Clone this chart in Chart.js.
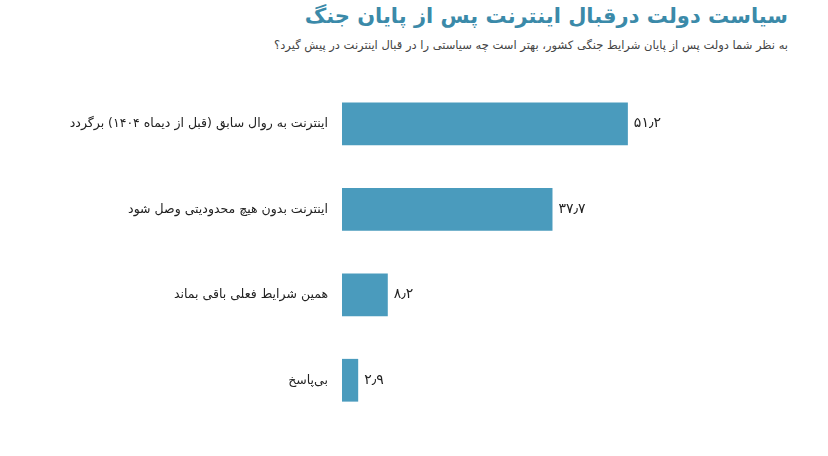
<!DOCTYPE html>
<html><head><meta charset="utf-8">
<script src="https://cdn.jsdelivr.net/npm/chart.js@4"></script>
<style>
body{margin:0;background:#fff;width:828px;height:456px;overflow:hidden;font-family:"DejaVu Sans","Noto Sans",sans-serif}
#t{position:absolute;right:40px;top:4px;font-size:21px;font-weight:bold;color:#3b8aa9;direction:rtl}
#s{position:absolute;right:40px;top:38px;font-size:11.5px;color:#444;direction:rtl}
#w{position:absolute;left:0;top:0;width:828px;height:456px}
</style></head><body>
<div id="t">سیاست دولت درقبال اینترنت پس از پایان جنگ</div>
<div id="s">به نظر شما دولت پس از پایان شرایط جنگی کشور، بهتر است چه سیاستی را در قبال اینترنت در پیش گیرد؟</div>
<div id="w"><canvas id="c"></canvas></div>
<script>
const categories=["اینترنت به روال سابق (قبل از دیماه ۱۴۰۴) برگردد","اینترنت بدون هیچ محدودیتی وصل شود","همین شرایط فعلی باقی بماند","بی‌پاسخ"];
const values=[51.2,37.7,8.2,2.9];
const fmt=v=>v.toLocaleString('fa-IR');
const lbl={id:'lbl',afterDatasetsDraw(ch){const c=ch.ctx;const m=ch.getDatasetMeta(0);c.save();c.font='14px "DejaVu Sans"';c.fillStyle='#222';c.textBaseline='middle';m.data.forEach((b,i)=>{c.fillText(fmt(values[i]),b.x+6,b.y);});c.restore();}};
new Chart(document.getElementById('c'),{type:'bar',data:{labels:categories,datasets:[{data:values,backgroundColor:'#4a9bbd',barPercentage:0.5,categoryPercentage:1}]},
options:{indexAxis:'y',responsive:true,maintainAspectRatio:false,animation:false,
layout:{padding:{top:81,right:151,bottom:33,left:0}},
plugins:{legend:{display:false},tooltip:{enabled:false}},
scales:{x:{min:0,max:60,display:false},
y:{grid:{display:false},border:{display:false},afterFit:s=>{s.width=342;},ticks:{color:'#222',font:{size:12.5,family:'"DejaVu Sans"'},padding:6}}}},
plugins:[lbl]});
</script></body></html>
